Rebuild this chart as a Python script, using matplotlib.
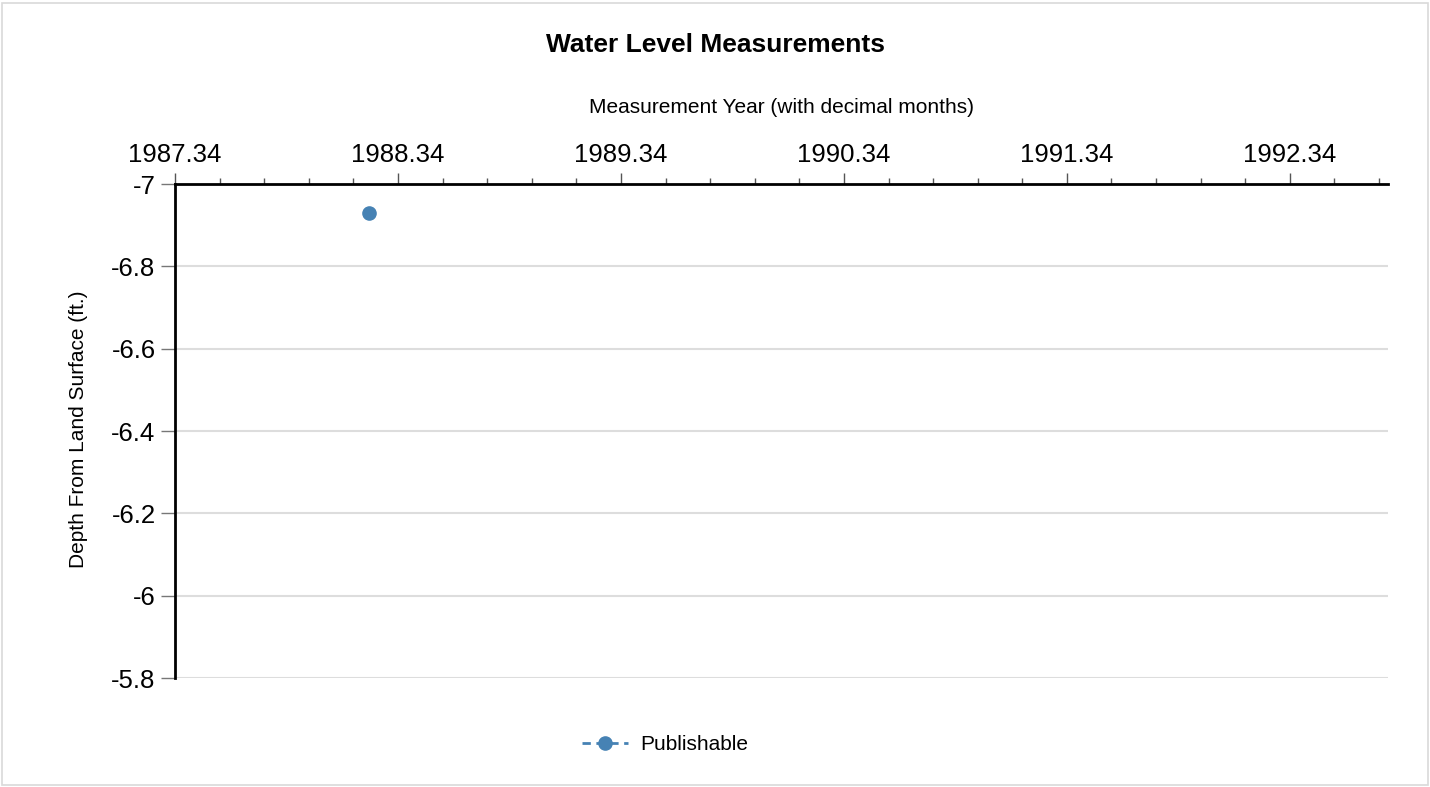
import matplotlib.pyplot as plt
import matplotlib.patches as patches
from matplotlib.ticker import FixedLocator, FuncFormatter

plt.rcParams['font.family'] = ['Liberation Sans', 'DejaVu Sans']

# Data
years = [1988.21]
depths = [-6.93]
x_ticks = [1987.34, 1988.34, 1989.34, 1990.34, 1991.34, 1992.34]
y_ticks = [-7.0, -6.8, -6.6, -6.4, -6.2, -6.0, -5.8]

fig = plt.figure(figsize=(14.3, 7.87), dpi=100)
ax = fig.add_axes([0.1224, 0.1385, 0.8482, 0.6277])

# light frame round the whole figure
fig.patches.append(patches.Rectangle((0.0015, 0.003), 0.997, 0.993, transform=fig.transFigure,
                                     fill=False, edgecolor='#d9d9d9', linewidth=1.2))

ax.plot(years, depths, linestyle='--', color='#4682b4', marker='o', markersize=9.5,
        linewidth=2, dashes=(3, 2), label='Publishable')

x_lo, x_hi = 1987.34, 1992.78
ax.set_xlim(x_lo, x_hi)
ax.set_ylim(-5.8, -7.0)

ax.xaxis.tick_top()
ax.xaxis.set_label_position('top')
ax.set_xticks(x_ticks)
ax.set_xticklabels([f"{v:.2f}" for v in x_ticks])
# minor ticks every 0.2 yr, starting from the first major tick
minor = [x_lo + 0.2 * i for i in range(int((x_hi - x_lo) / 0.2) + 1)]
ax.xaxis.set_minor_locator(FixedLocator(minor))
ax.set_yticks(y_ticks)
ax.yaxis.set_major_formatter(FuncFormatter(lambda v, p: f"{v:g}"))

ax.tick_params(axis='x', which='major', length=8, width=1, color='#555555', labelsize=18.5, pad=4)
ax.tick_params(axis='x', which='minor', length=4, width=1, color='#555555')
ax.tick_params(axis='y', which='major', length=10, width=1, color='#777777', labelsize=18.5, pad=4)

ax.grid(axis='y', color='#dddddd', linewidth=1.5)
ax.set_axisbelow(True)

for s in ['right', 'bottom']:
    ax.spines[s].set_visible(False)
ax.spines['top'].set_linewidth(2)
ax.spines['left'].set_linewidth(2)

ax.set_xlabel('Measurement Year (with decimal months)', fontsize=15, labelpad=22)
fig.text(0.055, 0.454, 'Depth From Land Surface (ft.)', rotation=90, fontsize=15,
         ha='center', va='center')
fig.suptitle('Water Level Measurements', fontsize=19, fontweight='bold', y=0.958)

ax.legend(loc='center', bbox_to_anchor=(0.465, 0.054), bbox_transform=fig.transFigure,
          frameon=False, fontsize=15, handlelength=2.2, handletextpad=0.6)

fig.savefig('out.png', dpi=100)
